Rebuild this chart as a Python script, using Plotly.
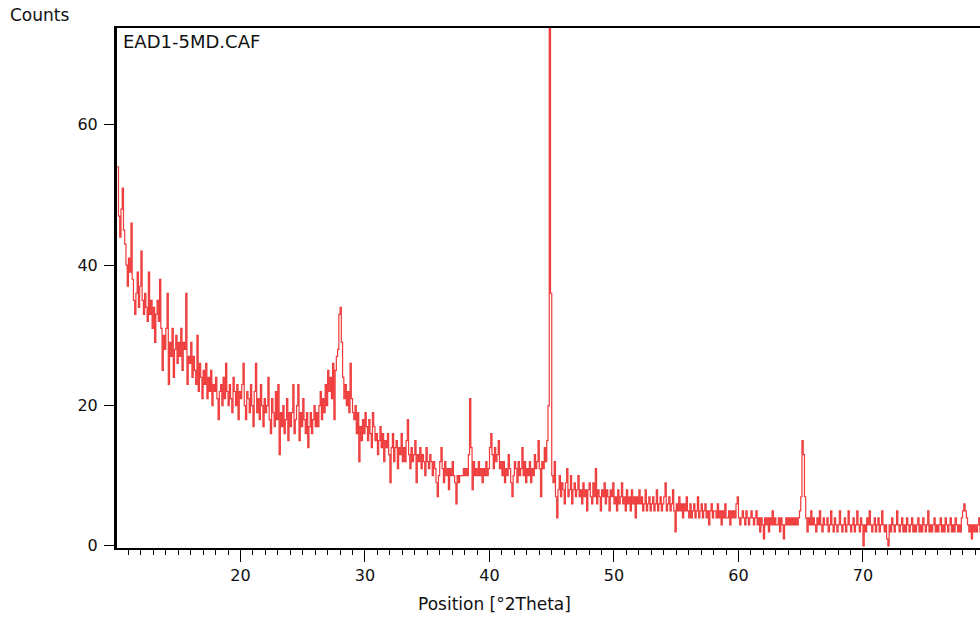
import plotly.graph_objects as go

# Scan grid: start angle and step (degrees 2Theta)
start_2theta = 10.1
step_2theta = 0.1

# Counts, one row per degree (10.1-11.0, 11.1-12.0, ...)
counts = [
    54, 47, 44, 48, 51, 45, 43, 40, 37, 41,
    39, 46, 38, 35, 33, 36, 39, 34, 37, 42,
    35, 33, 36, 34, 32, 39, 33, 35, 31, 34,
    29, 33, 35, 32, 38, 31, 25, 30, 28, 31,
    36, 23, 29, 27, 31, 24, 28, 30, 26, 29,
    27, 31, 25, 29, 28, 36, 23, 27, 26, 29,
    24, 27, 25, 23, 30, 22, 26, 24, 21, 25,
    23, 26, 21, 24, 22, 25, 20, 23, 22, 24,
    21, 18, 22, 23, 20, 24, 21, 26, 22, 20,
    23, 21, 19, 24, 22, 20, 23, 18, 22, 21,
    23, 26, 20, 18, 22, 21, 19, 23, 20, 17,
    22, 26, 19, 21, 18, 23, 20, 17, 21, 19,
    20, 24, 18, 16, 21, 19, 17, 22, 18, 23,
    13, 19, 17, 20, 16, 18, 21, 15, 19, 17,
    19, 23, 16, 18, 20, 23, 15, 19, 17, 21,
    18, 16, 19, 14, 17, 19, 16, 18, 20, 17,
    19, 17, 20, 22, 18, 21, 19, 23, 20, 25,
    22, 24, 21, 26, 18, 25, 27, 28, 33, 34,
    29, 24, 21, 23, 20, 22, 19, 26, 21, 19,
    18, 20, 16, 19, 12, 17, 15, 18, 16, 19,
    17, 15, 18, 16, 14, 19, 17, 15, 16, 13,
    15, 17, 14, 16, 12, 15, 14, 16, 13, 9,
    14, 16, 12, 14, 15, 11, 14, 13, 16, 12,
    14, 12, 15, 18, 13, 11, 14, 12, 13, 15,
    9, 13, 12, 14, 11, 13, 12, 10, 14, 12,
    11, 13, 12, 10, 12, 11, 9, 7, 10, 12,
    14, 11, 9, 12, 10, 11, 8, 11, 10, 12,
    10, 9, 6, 10, 9, 10, 10, 10, 11, 10,
    11, 10, 13, 21, 14, 8, 12, 10, 11, 10,
    12, 10, 11, 9, 11, 10, 12, 10, 11, 14,
    16, 13, 11, 14, 12, 13, 15, 11, 12, 10,
    12, 9, 11, 10, 13, 11, 9, 7, 10, 12,
    11, 9, 12, 10, 11, 14, 10, 12, 9, 11,
    10, 12, 9, 11, 10, 13, 11, 12, 15, 11,
    7, 12, 11, 14, 12, 15, 20, 130, 36, 10,
    9, 12, 7, 4, 8, 10, 7, 9, 8, 6,
    9, 11, 7, 8, 10, 6, 8, 9, 7, 8,
    10, 7, 8, 6, 9, 7, 8, 5, 8, 9,
    7, 6, 9, 7, 11, 6, 8, 7, 5, 8,
    7, 9, 6, 8, 7, 5, 8, 7, 9, 6,
    7, 5, 8, 6, 7, 9, 6, 7, 5, 8,
    6, 7, 5, 8, 6, 7, 4, 7, 6, 8,
    6, 7, 5, 6, 8, 5, 6, 7, 5, 6,
    7, 5, 6, 8, 5, 6, 7, 5, 6, 7,
    9, 5, 6, 7, 5, 6, 8, 5, 2, 6,
    5, 7, 5, 6, 4, 6, 5, 7, 5, 4,
    6, 4, 5, 6, 4, 5, 7, 4, 5, 6,
    4, 5, 6, 4, 5, 3, 5, 6, 4, 5,
    5, 4, 6, 4, 5, 3, 5, 4, 6, 4,
    4, 5, 3, 5, 4, 5, 4, 6, 7, 4,
    3, 4, 5, 4, 3, 5, 4, 3, 4, 5,
    4, 3, 4, 5, 3, 4, 2, 4, 3, 1,
    4, 3, 4, 2, 4, 3, 5, 3, 4, 3,
    3, 4, 2, 4, 3, 1, 3, 4, 3, 4,
    3, 4, 3, 4, 3, 4, 3, 4, 5, 7,
    15, 13, 7, 4, 2, 4, 3, 5, 3, 4,
    3, 2, 4, 3, 5, 3, 2, 4, 3, 3,
    4, 2, 3, 5, 3, 2, 4, 3, 2, 3,
    5, 3, 2, 3, 4, 2, 3, 5, 3, 2,
    3, 4, 2, 3, 5, 3, 2, 4, 3, 0,
    3, 2, 4, 3, 5, 3, 2, 3, 4, 2,
    3, 4, 2, 3, 5, 3, 2, 3, 1, 0,
    3, 2, 4, 3, 2, 3, 5, 3, 2, 3,
    4, 2, 3, 2, 4, 3, 2, 3, 4, 2,
    3, 2, 3, 4, 2, 3, 2, 4, 3, 2,
    3, 5, 2, 3, 2, 3, 4, 2, 3, 2,
    3, 4, 2, 3, 2, 4, 3, 2, 3, 4,
    2, 3, 2, 4, 3, 2, 3, 2, 4, 5,
    6, 5, 4, 3, 2, 3, 1, 3, 2, 3,
    2, 3, 4, 2, 3,
]

two_theta = [round(start_2theta + step_2theta * i, 2) for i in range(len(counts))]

x_range = [10.08, 79.4]
y_range = [-0.3, 73.8]
x_major_ticks = [20, 30, 40, 50, 60, 70]
y_major_ticks = [0, 20, 40, 60]

fig = go.Figure()
fig.add_trace(go.Scatter(
    x=two_theta, y=counts, mode="lines",
    line=dict(color="#ef3b3b", width=1.2, shape="hv"),
    showlegend=False, hoverinfo="x+y",
))

family = "DejaVu Sans, Verdana, sans-serif"
tick_font = dict(family=family, size=16, color="#111111")

fig.update_layout(
    width=980, height=624,
    margin=dict(l=117, r=0, t=28, b=76),
    paper_bgcolor="white", plot_bgcolor="white",
    font=tick_font,
    xaxis=dict(
        range=x_range, tickvals=x_major_ticks,
        showgrid=False, zeroline=False,
        showline=True, linecolor="black", linewidth=2, mirror=True,
        ticks="outside", ticklen=12, tickwidth=1, tickcolor="black",
        minor=dict(dtick=1, tick0=0, ticks="outside", ticklen=5, tickwidth=1, tickcolor="black"),
        tickfont=tick_font,
    ),
    yaxis=dict(
        range=y_range, tickvals=y_major_ticks,
        showgrid=False, zeroline=False,
        showline=True, linecolor="black", linewidth=3, mirror=False,
        ticks="outside", ticklen=10, tickwidth=1, tickcolor="black",
        ticklabelstandoff=3,
        tickfont=tick_font,
    ),
    annotations=[
        dict(text="Counts", xref="paper", yref="paper", x=-0.126, y=1.025,
             xanchor="left", yanchor="middle", showarrow=False,
             font=dict(family=family, size=17, color="#111111")),
        dict(text="EAD1-5MD.CAF", xref="paper", yref="paper", x=0.005, y=0.998,
             xanchor="left", yanchor="top", showarrow=False,
             font=dict(family=family, size=18, color="#111111")),
        dict(text="Position [°2Theta]", xref="paper", yref="paper", x=0.438, y=-0.108,
             xanchor="center", yanchor="middle", showarrow=False,
             font=dict(family=family, size=17, color="#111111")),
    ],
)

fig.write_html("out.html", config={"displayModeBar": False})
